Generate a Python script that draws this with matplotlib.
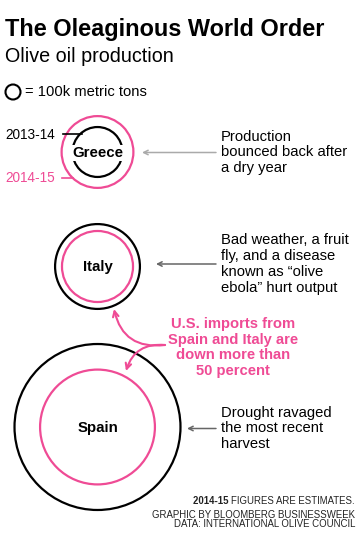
import numpy as np
import matplotlib
matplotlib.use('Agg')
import matplotlib.pyplot as plt
from matplotlib.patches import Circle, FancyArrowPatch

plt.rcParams['font.family'] = ['Liberation Sans', 'DejaVu Sans']

countries = ['Greece', 'Italy', 'Spain']
prod_2013_14 = [161, 465, 1780]
prod_2014_15 = [333, 326, 852]
notes = ['Production\nbounced back after\na dry year',
         'Bad weather, a fruit\nfly, and a disease\nknown as \u201colive\nebola\u201d hurt output',
         'Drought ravaged\nthe most recent\nharvest']
note_gray = ['#aaaaaa', '#666666', '#666666']

PINK = '#ef4b95'
cx = 97.5
cy = [152, 266.5, 427]
note_y = [152.5, 264, 428.5]
arrow_tip = [142, 156, 187]
k = 1.967  # px per sqrt(kt)

fig = plt.figure(figsize=(3.6, 5.46), dpi=100)
ax = fig.add_axes([0, 0, 1, 1])
ax.set_xlim(0, 360)
ax.set_ylim(546, 0)
ax.axis('off')

ax.text(5, 36, 'The Oleaginous World Order', fontsize=16.9, fontweight='bold',
        va='baseline', ha='left')
ax.text(5, 62, 'Olive oil production', fontsize=14.2, va='baseline', ha='left')

ax.add_patch(Circle((13, 92), 7.5, fill=False, ec='black', lw=1.5))
ax.text(25, 92, '= 100k metric tons', fontsize=10.6, va='center', ha='left')

for i, c in enumerate(countries):
    r_old = k * np.sqrt(prod_2013_14[i])
    r_new = k * np.sqrt(prod_2014_15[i])
    ax.add_patch(Circle((cx, cy[i]), r_old, fill=False, ec='black', lw=1.6))
    ax.add_patch(Circle((cx, cy[i]), r_new, fill=False, ec=PINK, lw=1.6))
    ax.text(cx, cy[i] + 1, c, fontsize=10.8, fontweight='bold', ha='center', va='center',
            bbox=dict(facecolor='white', edgecolor='none', pad=0.8), zorder=3)
    ax.annotate('', xy=(arrow_tip[i], note_y[i]), xytext=(216, note_y[i]),
                arrowprops=dict(arrowstyle='->', color=note_gray[i], lw=1.1,
                                mutation_scale=8, shrinkA=0, shrinkB=0))
    ax.text(221, note_y[i], notes[i], fontsize=10.6,
            ha='left', va='center', linespacing=1.17)

# year key for Greece
ax.text(5, 135, '2013-14', fontsize=9.8, ha='left', va='center')
ax.plot([63, 82], [134, 134], color='black', lw=1.2)
ax.text(5, 178, '2014-15', fontsize=9.8, ha='left', va='center', color=PINK)
ax.plot([62, 73], [178, 178], color=PINK, lw=1.2)

# pink callout
ax.text(233, 347.5, 'U.S. imports from\nSpain and Italy are\ndown more than\n50 percent',
        fontsize=10.6, fontweight='bold', color=PINK, ha='center', va='center',
        linespacing=1.13)
ax.add_patch(FancyArrowPatch((165, 345), (114, 309), connectionstyle='arc3,rad=-0.45',
                             arrowstyle='->', mutation_scale=10, color=PINK, lw=1.5,
                             shrinkA=0, shrinkB=0))
ax.add_patch(FancyArrowPatch((165, 345), (126, 371), connectionstyle='arc3,rad=0.4',
                             arrowstyle='->', mutation_scale=10, color=PINK, lw=1.5,
                             shrinkA=0, shrinkB=0))

# footer
t1 = ax.text(355, 506, 'FIGURES ARE ESTIMATES.', fontsize=6.9, ha='right', va='bottom',
             color='#222222')
ax.annotate('2014-15 ', xy=(0, 0), xycoords=t1, fontsize=6.9, fontweight='bold',
            ha='right', va='bottom', color='#222222')
ax.text(355, 520, 'GRAPHIC BY BLOOMBERG BUSINESSWEEK', fontsize=6.9, ha='right',
        va='bottom', color='#222222')
ax.text(355, 529, 'DATA: INTERNATIONAL OLIVE COUNCIL', fontsize=6.9, ha='right',
        va='bottom', color='#222222')

fig.savefig('out.png', dpi=100)
